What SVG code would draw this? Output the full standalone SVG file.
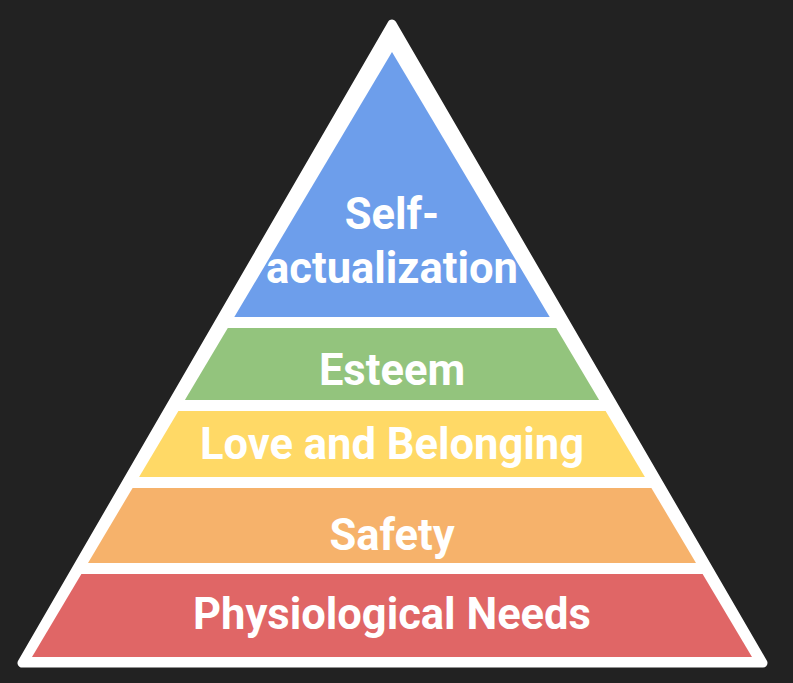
<svg xmlns="http://www.w3.org/2000/svg" width="793" height="683" viewBox="0 0 793 683">
<style>
.lbl{font-family:Roboto,"Liberation Sans",sans-serif;font-weight:700;font-size:43.5px;fill:#ffffff;text-anchor:middle}
</style>
<rect x="0" y="0" width="793" height="683" fill="#222222"/>
<g id="frame">
<polygon points="392,24 22,663 763,663" fill="#ffffff" stroke="#ffffff" stroke-width="9" stroke-linejoin="round"/>
</g>
<g id="self-actualization">
<polygon points="392,52 549.7,317 234.3,317" fill="#6d9eeb"/>
<text class="lbl" x="392" y="229">Self-</text>
<text class="lbl" x="392" y="283">actualization</text>
</g>
<g id="esteem">
<polygon points="227.8,328 556.2,328 599.1,400 184.9,400" fill="#93c47d"/>
<text class="lbl" x="392" y="385">Esteem</text>
</g>
<g id="love">
<polygon points="178.4,411 605.6,411 644.9,477 139.1,477" fill="#ffd966"/>
<text class="lbl" x="392" y="459">Love and Belonging</text>
</g>
<g id="safety">
<polygon points="132.6,488 651.4,488 696,563 88,563" fill="#f6b26b"/>
<text class="lbl" x="392" y="550">Safety</text>
</g>
<g id="physiological">
<polygon points="81.4,574 702.6,574 752,657 32,657" fill="#e06666"/>
<text class="lbl" x="392" y="629">Physiological Needs</text>
</g>
<g id="connectors"></g>
</svg>
